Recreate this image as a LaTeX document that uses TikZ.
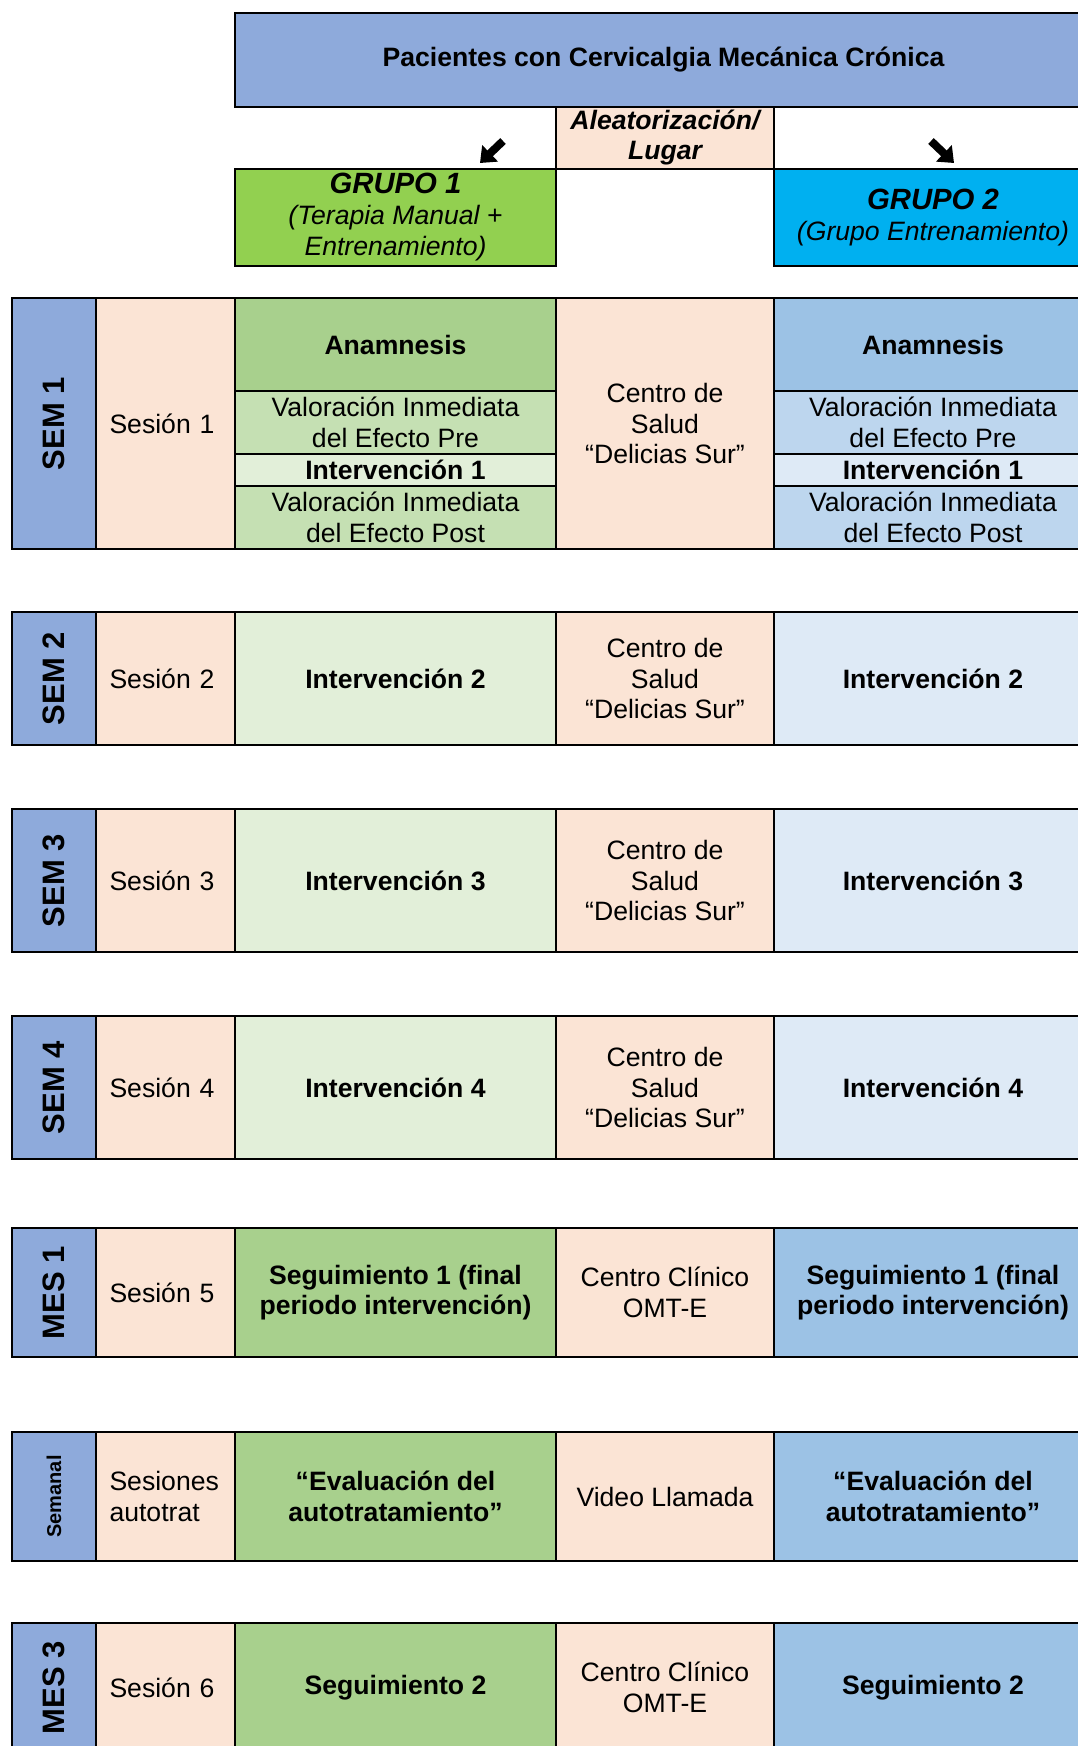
\documentclass[tikz,border=0pt]{standalone}
\usepackage{fontspec}
\setmainfont{Liberation Sans}
\usepackage{graphicx}
\usepackage{tikz}
\usetikzlibrary{arrows.meta, positioning, calc}

\definecolor{hdrblue}{HTML}{8EAADB}
\definecolor{peach}{HTML}{FBE4D5}
\definecolor{grpgreen}{HTML}{92D050}
\definecolor{grpcyan}{HTML}{00B0F0}
\definecolor{greenA}{HTML}{A8D08D}
\definecolor{greenB}{HTML}{C5E0B3}
\definecolor{greenC}{HTML}{E2EFD9}
\definecolor{blueA}{HTML}{9CC2E5}
\definecolor{blueB}{HTML}{BDD6EE}
\definecolor{blueC}{HTML}{DEEAF6}

\tikzset {
    cell/.style = {
        draw,
        shape = rectangle,
        line width = 2pt,
        inner sep = 0pt,
        outer sep = 0pt,
        align = center,
        font = \fontsize{26.6pt}{30.6pt}\selectfont
    },
    strong/.style = {
        font = \fontsize{26.6pt}{30.6pt}\selectfont\bfseries
    },
    week/.style = {
        cell,
        fill = hdrblue,
        minimum width = 84pt,
        minimum height = #1,
        font = \fontsize{31pt}{33pt}\selectfont\bfseries
    },
    session/.style = {
        cell,
        fill = peach,
        minimum width = 139pt,
        minimum height = #1,
        text width = 112pt,
        align = left
    },
    place/.style = {
        cell,
        fill = peach,
        minimum width = 218pt,
        minimum height = #1
    },
    grpone/.style 2 args = {
        cell,
        fill = #1,
        minimum width = 321pt,
        minimum height = #2
    },
    grptwo/.style 2 args = {
        cell,
        fill = #1,
        minimum width = 318pt,
        minimum height = #2
    },
    grouphead/.style = {
        font = \fontsize{26.6pt}{31pt}\selectfont\itshape
    },
    pointer/.style = {
        -{Triangle[length=14pt, width=22pt]},
        line width = 8pt,
        draw
    }
}

\begin{document}
\begin{tikzpicture}[x=1pt, y=-1pt]
        \useasboundingbox (0,0) rectangle (1078,1746);

        % Top : patients, randomisation / place, both groups
        \node [cell, fill=hdrblue, minimum width=857pt, minimum height=94pt, strong, anchor=north west] at (235,13) (pacientes) {Pacientes con Cervicalgia Mecánica Crónica};
        \node [place=62pt, font=\fontsize{26.6pt}{30pt}\selectfont\bfseries\itshape, anchor=north west] at ($(pacientes.south west)+(321,0)$) (aleat) {Aleatorización/\\Lugar};
        \node [grpone={grpgreen}{97pt}, grouphead, anchor=north east] at (aleat.south west) (grupo1) {{\fontsize{29.3pt}{31pt}\selectfont\bfseries GRUPO 1}\\(Terapia Manual +\\Entrenamiento)};
        \node [grptwo={grpcyan}{97pt}, grouphead, anchor=north west] at (aleat.south east) (grupo2) {{\fontsize{29.3pt}{31pt}\selectfont\bfseries GRUPO 2}\\(Grupo Entrenamiento)};

        \coordinate (tailone) at (503,141);
        \coordinate (tipone)  at (480,163);
        \coordinate (tailtwo) at (931,141);
        \coordinate (tiptwo)  at (954,163);
        \path [pointer] (tailone) -- (tipone);
        \path [pointer] (tailtwo) -- (tiptwo);

        % SEM 1 : week, session, group 1 (four parts), place, group 2 (four parts)
        \node [week=251pt, anchor=north west] at (12,298)           (sem1)   {\rotatebox{90}{SEM 1}};
        \node [session=251pt, right=0pt of sem1]                    (ses1)   {Sesión 1};
        \node [grpone={greenA}{93pt}, strong, anchor=north west] at (ses1.north east) (anamA) {Anamnesis};
        \node [grpone={greenB}{63pt}, below=0pt of anamA]           (preA)   {Valoración Inmediata\\del Efecto Pre};
        \node [grpone={greenC}{32pt}, strong, below=0pt of preA]    (intA)   {Intervención 1};
        \node [grpone={greenB}{63pt}, below=0pt of intA]            (postA)  {Valoración Inmediata\\del Efecto Post};
        \node [place=251pt, anchor=north west] at (anamA.north east) (lugar1) {Centro de\\Salud\\“Delicias Sur”};
        \node [grptwo={blueA}{93pt}, strong, anchor=north west] at (lugar1.north east) (anamB) {Anamnesis};
        \node [grptwo={blueB}{63pt}, below=0pt of anamB]            (preB)   {Valoración Inmediata\\del Efecto Pre};
        \node [grptwo={blueC}{32pt}, strong, below=0pt of preB]     (intB)   {Intervención 1};
        \node [grptwo={blueB}{63pt}, below=0pt of intB]             (postB)  {Valoración Inmediata\\del Efecto Post};

        % SEM 2
        \node [week=133pt, anchor=north west] at (12,612)           (sem2)   {\rotatebox{90}{SEM 2}};
        \node [session=133pt, right=0pt of sem2]                    (ses2)   {Sesión 2};
        \node [grpone={greenC}{133pt}, strong, right=0pt of ses2]   (int2A)  {Intervención 2};
        \node [place=133pt, right=0pt of int2A]                     (lugar2) {Centro de\\Salud\\“Delicias Sur”};
        \node [grptwo={blueC}{133pt}, strong, right=0pt of lugar2]  (int2B)  {Intervención 2};

        % SEM 3
        \node [week=143pt, anchor=north west] at (12,809)           (sem3)   {\rotatebox{90}{SEM 3}};
        \node [session=143pt, right=0pt of sem3]                    (ses3)   {Sesión 3};
        \node [grpone={greenC}{143pt}, strong, right=0pt of ses3]   (int3A)  {Intervención 3};
        \node [place=143pt, right=0pt of int3A]                     (lugar3) {Centro de\\Salud\\“Delicias Sur”};
        \node [grptwo={blueC}{143pt}, strong, right=0pt of lugar3]  (int3B)  {Intervención 3};

        % SEM 4
        \node [week=143pt, anchor=north west] at (12,1016)          (sem4)   {\rotatebox{90}{SEM 4}};
        \node [session=143pt, right=0pt of sem4]                    (ses4)   {Sesión 4};
        \node [grpone={greenC}{143pt}, strong, right=0pt of ses4]   (int4A)  {Intervención 4};
        \node [place=143pt, right=0pt of int4A]                     (lugar4) {Centro de\\Salud\\“Delicias Sur”};
        \node [grptwo={blueC}{143pt}, strong, right=0pt of lugar4]  (int4B)  {Intervención 4};

        % MES 1 : first follow-up
        \node [week=129pt, anchor=north west] at (12,1228)          (mes1)   {\rotatebox{90}{MES 1}};
        \node [session=129pt, right=0pt of mes1]                    (ses5)   {Sesión 5};
        \node [grpone={greenA}{129pt}, strong, right=0pt of ses5]   (seg1A)  {Seguimiento 1 (final\\periodo intervención)};
        \node [place=129pt, right=0pt of seg1A]                     (lugar5) {Centro Clínico\\OMT-E};
        \node [grptwo={blueA}{129pt}, strong, right=0pt of lugar5]  (seg1B)  {Seguimiento 1 (final\\periodo intervención)};

        % Semanal : self-treatment by video call
        \node [week=129pt, anchor=north west] at (12,1432)          (semanal) {\rotatebox{90}{\fontsize{20pt}{21pt}\selectfont Semanal}};
        \node [session=129pt, right=0pt of semanal]                 (autot)  {Sesiones\\autotrat};
        \node [grpone={greenA}{129pt}, strong, right=0pt of autot]  (evalA)  {“Evaluación del\\autotratamiento”};
        \node [place=129pt, right=0pt of evalA]                     (video)  {Video Llamada};
        \node [grptwo={blueA}{129pt}, strong, right=0pt of video]   (evalB)  {“Evaluación del\\autotratamiento”};

        % MES 3 : second follow-up
        \node [week=129pt, anchor=north west] at (12,1623)          (mes3)   {\rotatebox{90}{MES 3}};
        \node [session=129pt, right=0pt of mes3]                    (ses6)   {Sesión 6};
        \node [grpone={greenA}{129pt}, strong, right=0pt of ses6]   (seg2A)  {Seguimiento 2};
        \node [place=129pt, right=0pt of seg2A]                     (lugar6) {Centro Clínico\\OMT-E};
        \node [grptwo={blueA}{129pt}, strong, right=0pt of lugar6]  (seg2B)  {Seguimiento 2};
    \end{tikzpicture}
\end{document}
